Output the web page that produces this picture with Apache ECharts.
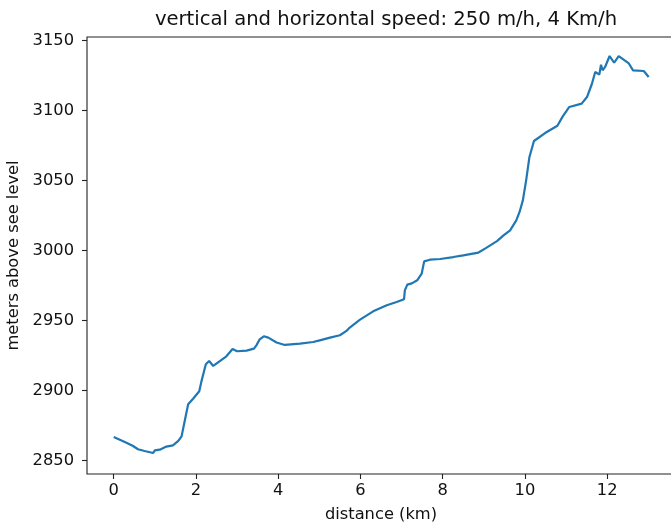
<!DOCTYPE html>
<html>
<head>
<meta charset="utf-8">
<script src="https://cdn.jsdelivr.net/npm/echarts@6/dist/echarts.min.js"></script>
<style>html,body{margin:0;padding:0;background:#fff}#c{width:671px;height:523px}</style>
</head>
<body>
<div id="c"></div>
<script>
var distanceKm = [0, 0.31, 0.47, 0.59, 0.75, 0.96, 1.0, 1.12, 1.28, 1.44, 1.57, 1.65, 1.73, 1.81, 1.93, 2.08, 2.13, 2.24, 2.32, 2.42, 2.58, 2.74, 2.89, 3.0, 3.23, 3.41, 3.47, 3.55, 3.65, 3.76, 3.96, 4.16, 4.53, 4.85, 5.01, 5.26, 5.5, 5.66, 5.74, 5.99, 6.31, 6.64, 6.88, 7.06, 7.08, 7.14, 7.25, 7.38, 7.49, 7.55, 7.69, 7.94, 8.26, 8.50, 8.87, 9.03, 9.32, 9.48, 9.64, 9.79, 9.87, 9.95, 10.03, 10.11, 10.22, 10.49, 10.79, 10.92, 11.08, 11.38, 11.51, 11.63, 11.71, 11.81, 11.85, 11.89, 11.95, 12.06, 12.17, 12.28, 12.52, 12.63, 12.89, 12.93, 13.01];
var elevation = [2866.7, 2862.6, 2860.2, 2857.9, 2856.6, 2855.2, 2857.1, 2857.6, 2859.8, 2860.7, 2863.8, 2867.1, 2878.6, 2890, 2894, 2899.3, 2906, 2918.6, 2920.9, 2917.4, 2920.9, 2924.3, 2929.5, 2927.9, 2928.3, 2929.8, 2932.1, 2936.4, 2938.6, 2937.6, 2934.1, 2932.4, 2933.3, 2934.5, 2935.7, 2937.6, 2939.3, 2942.4, 2944.8, 2950.5, 2956.4, 2960.7, 2963.1, 2965, 2971.4, 2975.5, 2976.4, 2978.6, 2983.4, 2992.1, 2993.3, 2993.8, 2995.2, 2996.4, 2998.4, 3001.2, 3006.6, 3010.7, 3014.3, 3021.4, 3027.4, 3035.7, 3050, 3066.7, 3078.1, 3083.8, 3089, 3095.7, 3102.4, 3104.8, 3109.5, 3119, 3127.4, 3125.5, 3132.6, 3128.6, 3131, 3138.8, 3134, 3138.8, 3133.8, 3128.6, 3128.1, 3127.4, 3123.8];
var xTicks = [0, 2, 4, 6, 8, 10, 12];
var yTicks = [2850, 2900, 2950, 3000, 3050, 3100, 3150];

var pts = distanceKm.map(function (d, i) { return [d, elevation[i]]; });
var font = 'DejaVu Sans';
var fs = 16.3;
var chart = echarts.init(document.getElementById('c'), null, {renderer: 'canvas'});
chart.setOption({
  animation: false,
  backgroundColor: '#fff',
  title: {
    text: 'vertical and horizontal speed: 250 m/h, 4 Km/h',
    left: 381, top: 5, textAlign: 'center',
    textStyle: {fontFamily: font, fontSize: 19.6, fontWeight: 'normal', color: '#111'}
  },
  grid: {
    left: 87, right: -4, top: 37, bottom: 49,
    containLabel: false, outerBoundsMode: 'none',
    show: true, borderColor: '#222', borderWidth: 1.1, backgroundColor: 'transparent'
  },
  xAxis: {
    type: 'value', min: -0.65, max: 13.65,
    name: 'distance (km)', nameLocation: 'middle', nameGap: 33,
    nameTextStyle: {fontFamily: font, fontSize: fs, color: '#111'},
    axisLine: {show: false, onZero: false},
    splitLine: {show: false},
    axisTick: {show: true, length: 5, customValues: xTicks, lineStyle: {color: '#222', width: 1.1}},
    axisLabel: {customValues: xTicks, margin: 9, fontFamily: font, fontSize: fs, color: '#111',
      formatter: function (v) { return String(v); }}
  },
  yAxis: {
    type: 'value', min: 2840.2, max: 3152.4,
    name: 'meters above see level', nameLocation: 'middle', nameGap: 58,
    nameTextStyle: {fontFamily: font, fontSize: fs, color: '#111'},
    axisLine: {show: false, onZero: false},
    splitLine: {show: false},
    axisTick: {show: true, length: 5, customValues: yTicks, lineStyle: {color: '#222', width: 1.1}},
    axisLabel: {customValues: yTicks, margin: 13, fontFamily: font, fontSize: fs, color: '#111',
      formatter: function (v) { return String(v); }}
  },
  series: [{
    type: 'line', data: pts, showSymbol: false, smooth: false,
    lineStyle: {color: '#1f77b4', width: 2.2}, itemStyle: {color: '#1f77b4'}
  }]
});
</script>
</body>
</html>
